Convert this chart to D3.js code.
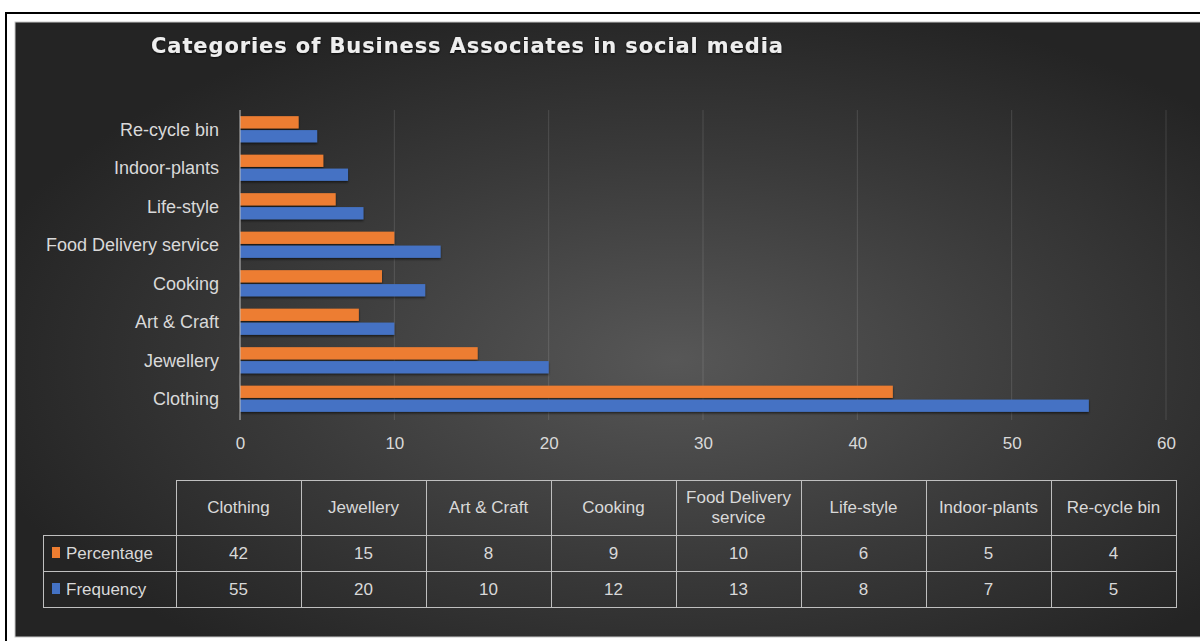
<!DOCTYPE html>
<html>
<head>
<meta charset="utf-8">
<script src="https://cdn.jsdelivr.net/npm/d3@7"></script>
<style>
  html, body { margin: 0; padding: 0; background: #ffffff; }
  svg { display: block; }
  .lbl { font-family: "Liberation Sans Narrow", "Liberation Sans", sans-serif; fill: #d9d9d9; }
</style>
</head>
<body>
<svg id="chart" width="1200" height="641"></svg>
<script>
// chart values
var categories = ["Clothing", "Jewellery", "Art & Craft", "Cooking", "Food Delivery service", "Life-style", "Indoor-plants", "Re-cycle bin"];
var tableHeads = [["Clothing"], ["Jewellery"], ["Art & Craft"], ["Cooking"], ["Food Delivery", "service"], ["Life-style"], ["Indoor-plants"], ["Re-cycle bin"]];
var percentage = [42.3, 15.4, 7.7, 9.2, 10.0, 6.2, 5.4, 3.8];
var frequency = [55, 20, 10, 12, 13, 8, 7, 5];
var seriesNames = ["Percentage", "Frequency"];
var seriesColors = ["#ed7d31", "#4472c4"];
var xTicks = [0, 10, 20, 30, 40, 50, 60];

var svg = d3.select("#chart");
var defs = svg.append("defs");

var bg = defs.append("radialGradient").attr("id", "bgGrad")
	.attr("cx", "55%").attr("cy", "55%").attr("r", "60%");
bg.append("stop").attr("offset", "0%").attr("stop-color", "#575757");
bg.append("stop").attr("offset", "55%").attr("stop-color", "#3a3a3a");
bg.append("stop").attr("offset", "100%").attr("stop-color", "#242424");

var shadow = defs.append("filter").attr("id", "barShadow")
	.attr("x", "-5%").attr("y", "-50%").attr("width", "110%").attr("height", "220%");
shadow.append("feDropShadow").attr("dx", 0).attr("dy", 1.5).attr("stdDeviation", 1.2)
	.attr("flood-color", "#000").attr("flood-opacity", 0.6);

var glow = defs.append("filter").attr("id", "titleShadow")
	.attr("x", "-5%").attr("y", "-50%").attr("width", "110%").attr("height", "200%");
glow.append("feDropShadow").attr("dx", 0).attr("dy", 1).attr("stdDeviation", 1)
	.attr("flood-color", "#000").attr("flood-opacity", 0.8);

// frame
svg.append("rect")
	.attr("x", 15).attr("y", 22).attr("width", 1200).attr("height", 615)
	.style("fill", "url(#bgGrad)")
	.style("stroke", "#c8c8c8").style("stroke-width", 1);
svg.append("line").attr("x1", 5).attr("x2", 1200).attr("y1", 13).attr("y2", 13)
	.style("stroke", "#000").style("stroke-width", 2);
svg.append("line").attr("x1", 6).attr("x2", 6).attr("y1", 12).attr("y2", 641)
	.style("stroke", "#000").style("stroke-width", 2);

// title
svg.append("text")
	.attr("x", 151).attr("y", 53)
	.attr("textLength", 632).attr("lengthAdjust", "spacing")
	.attr("filter", "url(#titleShadow)")
	.style("font-family", "DejaVu Sans, sans-serif")
	.style("font-weight", "bold")
	.style("font-size", "21px")
	.style("fill", "#eeeeee")
	.text("Categories of Business Associates in social media");

// scales
var x = d3.scaleLinear().domain([0, 60]).range([240, 1166]);
var y = d3.scaleBand().domain(categories.slice().reverse()).range([110, 418])
	.paddingInner(0.32).paddingOuter(0.16);
var ySub = d3.scaleBand().domain(seriesNames).range([0, y.bandwidth()]).paddingInner(0.12);

// gridlines
svg.append("g").selectAll("line")
	.data(xTicks.slice(1))
	.enter().append("line")
	.attr("x1", function(d){ return x(d); }).attr("x2", function(d){ return x(d); })
	.attr("y1", 110).attr("y2", 420)
	.style("stroke", "#ffffff").style("stroke-opacity", 0.13).style("stroke-width", 1);

// bars
var rows = categories.map(function(c, i){ return { cat: c, values: [percentage[i], frequency[i]] }; });
var groups = svg.append("g").selectAll(".cat")
	.data(rows)
	.enter().append("g")
	.attr("class", "cat")
	.attr("transform", function(d){ return "translate(0," + y(d.cat) + ")"; });

groups.selectAll("rect")
	.data(function(d){ return d.values.map(function(v, j){ return { name: seriesNames[j], value: v, color: seriesColors[j] }; }); })
	.enter().append("rect")
	.attr("x", x(0))
	.attr("y", function(d){ return ySub(d.name); })
	.attr("width", function(d){ return x(d.value) - x(0); })
	.attr("height", ySub.bandwidth())
	.attr("filter", "url(#barShadow)")
	.style("fill", function(d){ return d.color; });

// axis line at zero
svg.append("line")
	.attr("x1", x(0)).attr("x2", x(0)).attr("y1", 110).attr("y2", 420)
	.style("stroke", "#bfbfbf").style("stroke-width", 1);

// category labels
svg.append("g").selectAll("text")
	.data(categories)
	.enter().append("text")
	.attr("class", "lbl")
	.attr("x", 219)
	.attr("y", function(d){ return y(d) + y.bandwidth() / 2; })
	.attr("dy", "0.35em")
	.style("text-anchor", "end")
	.style("font-size", "18px")
	.text(function(d){ return d; });

// x tick labels
var xAxis = d3.axisBottom(x).tickValues(xTicks).tickSize(0).tickPadding(0);
var xg = svg.append("g").attr("transform", "translate(0,437)").call(xAxis);
xg.select(".domain").remove();
xg.selectAll("text")
	.attr("class", "lbl")
	.attr("fill", null)
	.style("font-size", "17px");

// data table
var col = d3.scaleBand().domain(categories).range([176, 1176]);
var rowY = [480, 535, 571, 607];
var lineColor = "#bfbfbf";
var table = svg.append("g").style("stroke", lineColor).style("stroke-width", 1).style("fill", "none");

// header cells
table.selectAll(".hcell").data(categories).enter().append("rect")
	.attr("x", function(d){ return col(d) + 0.5; }).attr("y", rowY[0] + 0.5)
	.attr("width", col.bandwidth()).attr("height", rowY[1] - rowY[0]);
// value cells
var valRows = [percentage, frequency];
valRows.forEach(function(vals, r) {
	table.selectAll(".vcell" + r).data(categories).enter().append("rect")
		.attr("x", function(d){ return col(d) + 0.5; }).attr("y", rowY[r + 1] + 0.5)
		.attr("width", col.bandwidth()).attr("height", rowY[r + 2] - rowY[r + 1]);
	table.append("rect")
		.attr("x", 43.5).attr("y", rowY[r + 1] + 0.5)
		.attr("width", 176 - 43).attr("height", rowY[r + 2] - rowY[r + 1]);
});

// header text
var heads = svg.append("g").selectAll("text")
	.data(categories)
	.enter().append("text")
	.attr("class", "lbl")
	.attr("x", function(d){ return col(d) + col.bandwidth() / 2; })
	.style("text-anchor", "middle")
	.style("font-size", "17px");
heads.each(function(d, i) {
	var lines = tableHeads[i];
	var t = d3.select(this);
	var mid = (rowY[0] + rowY[1]) / 2;
	var start = mid - (lines.length - 1) * 10;
	lines.forEach(function(l, k) {
		t.append("tspan")
			.attr("x", col(d) + col.bandwidth() / 2)
			.attr("y", start + k * 20)
			.attr("dy", "0.35em")
			.text(l);
	});
});

// values text
var fmt = d3.format(".0f");
valRows.forEach(function(vals, r) {
	svg.append("g").selectAll("text")
		.data(vals)
		.enter().append("text")
		.attr("class", "lbl")
		.attr("x", function(d, i){ return col(categories[i]) + col.bandwidth() / 2; })
		.attr("y", (rowY[r + 1] + rowY[r + 2]) / 2)
		.attr("dy", "0.35em")
		.style("text-anchor", "middle")
		.style("font-size", "17px")
		.text(function(d){ return fmt(d); });
});

// legend keys in table
var legend = svg.append("g").selectAll("g")
	.data(seriesNames)
	.enter().append("g")
	.attr("transform", function(d, i){ return "translate(52," + ((rowY[i + 1] + rowY[i + 2]) / 2) + ")"; });
legend.append("rect")
	.attr("x", 0).attr("y", -6)
	.attr("width", 8).attr("height", 11)
	.style("fill", function(d, i){ return seriesColors[i]; });
legend.append("text")
	.attr("class", "lbl")
	.attr("x", 14)
	.attr("dy", "0.35em")
	.style("font-size", "17px")
	.text(function(d){ return d; });
</script>
</body>
</html>
